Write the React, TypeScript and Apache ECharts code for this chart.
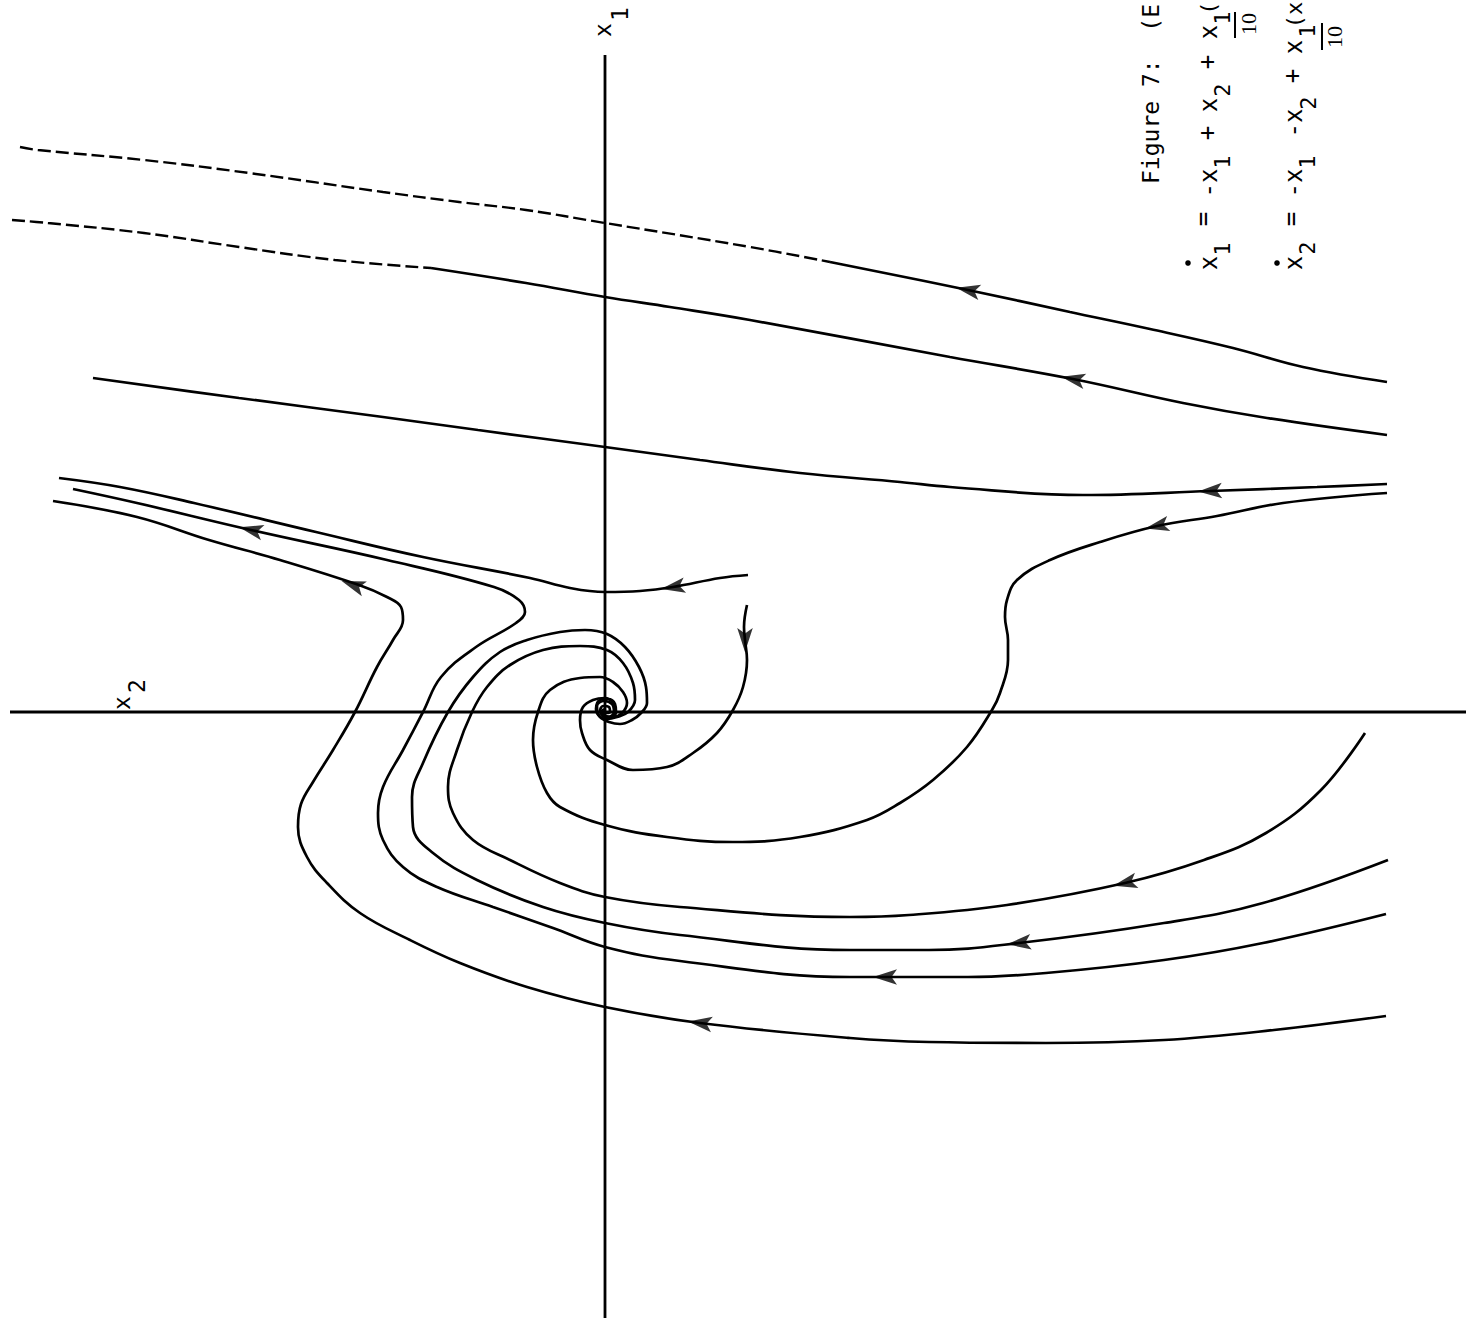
import React, { useEffect, useRef } from "react";
import * as echarts from "echarts";

// Phase-plane coordinates: x2 horizontal (right +), x1 vertical (up +); origin at the axes crossing.
const axisH = [[-595, 0], [861, 0]];
const axisV = [[0, -606], [0, 657]];

// Trajectories (flow runs right -> left along the upper ones)
const curveADashed = [[-585, 565], [-567, 562], [-461, 552], [-356, 539], [-222, 520], [-146, 510], [-79, 502], [0, 489], [145, 465], [225, 450]];
const curveASolid = [[225, 450], [363, 422], [465, 400], [545, 383], [628, 364], [698, 345], [782, 330]];
const curveBDashed = [[-593, 492], [-557, 489], [-461, 479], [-366, 465], [-270, 452], [-174, 444]];
const curveBSolid = [[-174, 444], [-79, 429], [0, 415], [65, 405], [145, 392], [345, 355], [468, 333], [578, 309], [662, 294], [782, 277]];
const curveC = [[-512, 334], [-366, 314], [-222, 295], [-127, 282], [0, 265], [95, 252], [195, 239], [295, 230], [345, 225], [478, 217], [605, 221], [712, 225], [782, 228]];
const curveD = [[782, 219], [678, 209], [612, 196], [552, 186], [495, 170], [445, 152], [412, 132], [402, 112], [400, 95], [403, 72], [403, 52], [395, 19], [387, 2], [362, -35], [328, -68], [295, -91], [262, -108], [195, -125], [128, -130], [62, -125], [0, -113], [-45, -95], [-58, -81], [-68, -55], [-72, -28], [-67, 0], [-55, 22], [-25, 34], [-5, 35], [8, 30], [18, 20], [22, 9], [17, -1], [8, -5], [0, -4], [-5, 1], [-2, 6], [4, 5], [5, 0], [1, -1]];
const curveE = [[760, -21], [716, -78], [661, -121], [599, -148], [520, -171], [402, -193], [304, -203], [245, -205], [75, -195], [0, -185], [-45, -171], [-95, -148], [-132, -128], [-152, -101], [-157, -75], [-148, -38], [-133, 0], [-118, 25], [-95, 47], [-62, 62], [-25, 66], [2, 62], [18, 49], [28, 29], [30, 12], [23, 0], [12, -5], [2, -7], [-7, -2], [-8, 6], [-1, 11], [7, 8], [9, 0], [3, -5], [-2, -1]];
const curveF = [[783, -148], [658, -191], [559, -211], [414, -231], [324, -238], [245, -238], [75, -223], [0, -211], [-62, -195], [-128, -168], [-172, -141], [-192, -115], [-193, -85], [-182, -51], [-157, 0], [-132, 35], [-105, 60], [-78, 72], [-45, 80], [-20, 82], [2, 78], [20, 65], [34, 45], [41, 25], [42, 9], [36, -1], [27, -8], [15, -12], [4, -10], [-5, -5], [-9, 3], [-5, 12], [3, 13], [10, 8], [11, 0], [5, -6], [-2, -4], [-4, 1]];
const curveG = [[781, -202], [658, -231], [559, -248], [441, -261], [363, -265], [280, -265], [245, -265], [75, -249], [0, -235], [-52, -216], [-112, -195], [-168, -175], [-202, -155], [-222, -128], [-227, -101], [-222, -75], [-202, -38], [-182, 0], [-164, 35], [-129, 65], [-89, 89], [-80, 100], [-86, 112], [-111, 125], [-218, 152], [-354, 182], [-468, 209], [-532, 223]];
const curveH = [[781, -304], [669, -318], [559, -328], [441, -331], [324, -330], [245, -326], [95, -311], [0, -295], [-78, -275], [-145, -251], [-195, -228], [-245, -201], [-278, -171], [-298, -145], [-307, -115], [-304, -92], [-292, -70], [-272, -38], [-250, 0], [-228, 45], [-212, 72], [-202, 92], [-204, 105], [-218, 115], [-246, 127], [-325, 152], [-396, 172], [-468, 195], [-552, 211]];
const curveI = [[143, 137], [115, 134], [68, 125], [35, 121], [0, 120], [-35, 124], [-75, 134], [-182, 155], [-289, 180], [-411, 209], [-485, 225], [-546, 234]];
const curveJ = [[142, 107], [139, 85], [140, 72], [142, 52], [138, 25], [128, 2], [112, -21], [88, -41], [62, -55], [28, -58], [2, -48], [-15, -38], [-23, -21], [-25, -8], [-22, 5], [-12, 12], [0, 14], [8, 9], [10, 0], [5, -5], [-1, -4], [-3, 1], [1, 3]];

// Arrowheads: [x2, x1, flow direction in degrees]
const arrows = [
  [363, 422, 169], [468, 333, 169], [605, 221, 182], [552, 186, 192],
  [520, -171, 193], [414, -231, 186], [280, -265, 180], [-354, 182, 167],
  [95, -311, 173], [-252, 127, 161], [68, 125, 189], [140, 72, 270],
];

const FONT = '"DejaVu Sans Mono", "Liberation Mono", monospace';
const NUMFONT = '"Liberation Serif", "DejaVu Serif", serif';

function txt(text: string, x: number, y: number, size: number, align: string = "center", family: string = FONT) {
  return {
    type: "text",
    x,
    y,
    rotation: Math.PI / 2,
    style: {
      text,
      fill: "#000",
      font: `${size}px ${family}`,
      fontSize: size,
      fontFamily: family,
      align,
      textAlign: align,
      verticalAlign: "middle",
      textVerticalAlign: "middle",
    },
  };
}

export default function App() {
  const ref = useRef<HTMLDivElement>(null);
  useEffect(() => {
    const chart = echarts.init(ref.current!, undefined, { renderer: "svg" });
    const solid = (data: number[][], w = 2.7) => ({
      type: "line",
      data,
      showSymbol: false,
      smooth: 0.4,
      silent: true,
      lineStyle: { color: "#000", width: w },
    });
    const dashed = (data: number[][]) => ({
      type: "line",
      data,
      showSymbol: false,
      smooth: 0.4,
      silent: true,
      lineStyle: { color: "#000", width: 2.4, type: [13, 5] },
    });
    const axisLine = (data: number[][]) => ({
      type: "line",
      data,
      showSymbol: false,
      silent: true,
      lineStyle: { color: "#000", width: 2.8 },
    });
    const option: any = {
      animation: false,
      backgroundColor: "#fff",
      grid: { left: 0, right: 0, top: 0, bottom: 0 },
      xAxis: { type: "value", min: -605, max: 861, show: false },
      yAxis: { type: "value", min: -606, max: 712, show: false },
      series: [
        axisLine(axisH),
        axisLine(axisV),
        dashed(curveADashed),
        solid(curveASolid),
        dashed(curveBDashed),
        solid(curveBSolid),
        solid(curveC),
        solid(curveD),
        solid(curveE),
        solid(curveF),
        solid(curveG),
        solid(curveH),
        solid(curveI),
        solid(curveJ),
        {
          type: "scatter",
          z: 5,
          silent: true,
          symbol: "path://M0,9 L22,0 L17,9 L22,18 Z",
          symbolSize: [24, 19],
          symbolKeepAspect: true,
          itemStyle: { color: "#000" },
          data: arrows.map((a) => ({ value: [a[0], a[1]], symbolRotate: a[2] - 180 })),
        },
      ],
      graphic: [
        // axis labels
        txt("x", 603, 30, 23),
        txt("1", 620, 14, 23),
        txt("x", 122, 703, 23),
        txt("2", 137, 686, 23),
        // caption
        txt("Figure 7:  (E", 1151, 184, 23, "left"),
        // equation 1
        { type: "circle", shape: { cx: 1188, cy: 263, r: 2.8 }, style: { fill: "#000" } },
        txt("x", 1209, 263, 24),
        txt("1", 1222, 249, 22),
        txt("=", 1203, 219, 24),
        txt("-x", 1209, 183, 24),
        txt("1", 1222, 162, 22),
        txt("+", 1207, 133, 24),
        txt("x", 1209, 105, 24),
        txt("2", 1222, 90, 22),
        txt("+", 1207, 62, 24),
        txt("x", 1209, 32, 24),
        txt("1", 1222, 18, 22),
        txt("(", 1208, 8, 22),
        { type: "line", shape: { x1: 1235, y1: 12, x2: 1235, y2: 38 }, style: { stroke: "#000", lineWidth: 2 } },
        txt("10", 1248, 24, 22, "center", NUMFONT),
        // equation 2
        { type: "circle", shape: { cx: 1277, cy: 263, r: 2.8 }, style: { fill: "#000" } },
        txt("x", 1294, 263, 24),
        txt("2", 1307, 248, 22),
        txt("=", 1291, 219, 24),
        txt("-x", 1294, 183, 24),
        txt("1", 1307, 162, 22),
        txt("-x", 1294, 123, 24),
        txt("2", 1308, 103, 22),
        txt("+", 1292, 76, 24),
        txt("x", 1294, 47, 24),
        txt("1", 1307, 31, 22),
        txt("(x", 1294, 15, 22),
        { type: "line", shape: { x1: 1322, y1: 23, x2: 1322, y2: 50 }, style: { stroke: "#000", lineWidth: 2 } },
        txt("10", 1334, 37, 22, "center", NUMFONT),
      ],
    };
    chart.setOption(option);
    return () => chart.dispose();
  }, []);
  return (
    <div
      ref={ref}
      style={{ position: "absolute", left: 0, top: 0, width: 1466, height: 1318, background: "#fff" }}
    />
  );
}
